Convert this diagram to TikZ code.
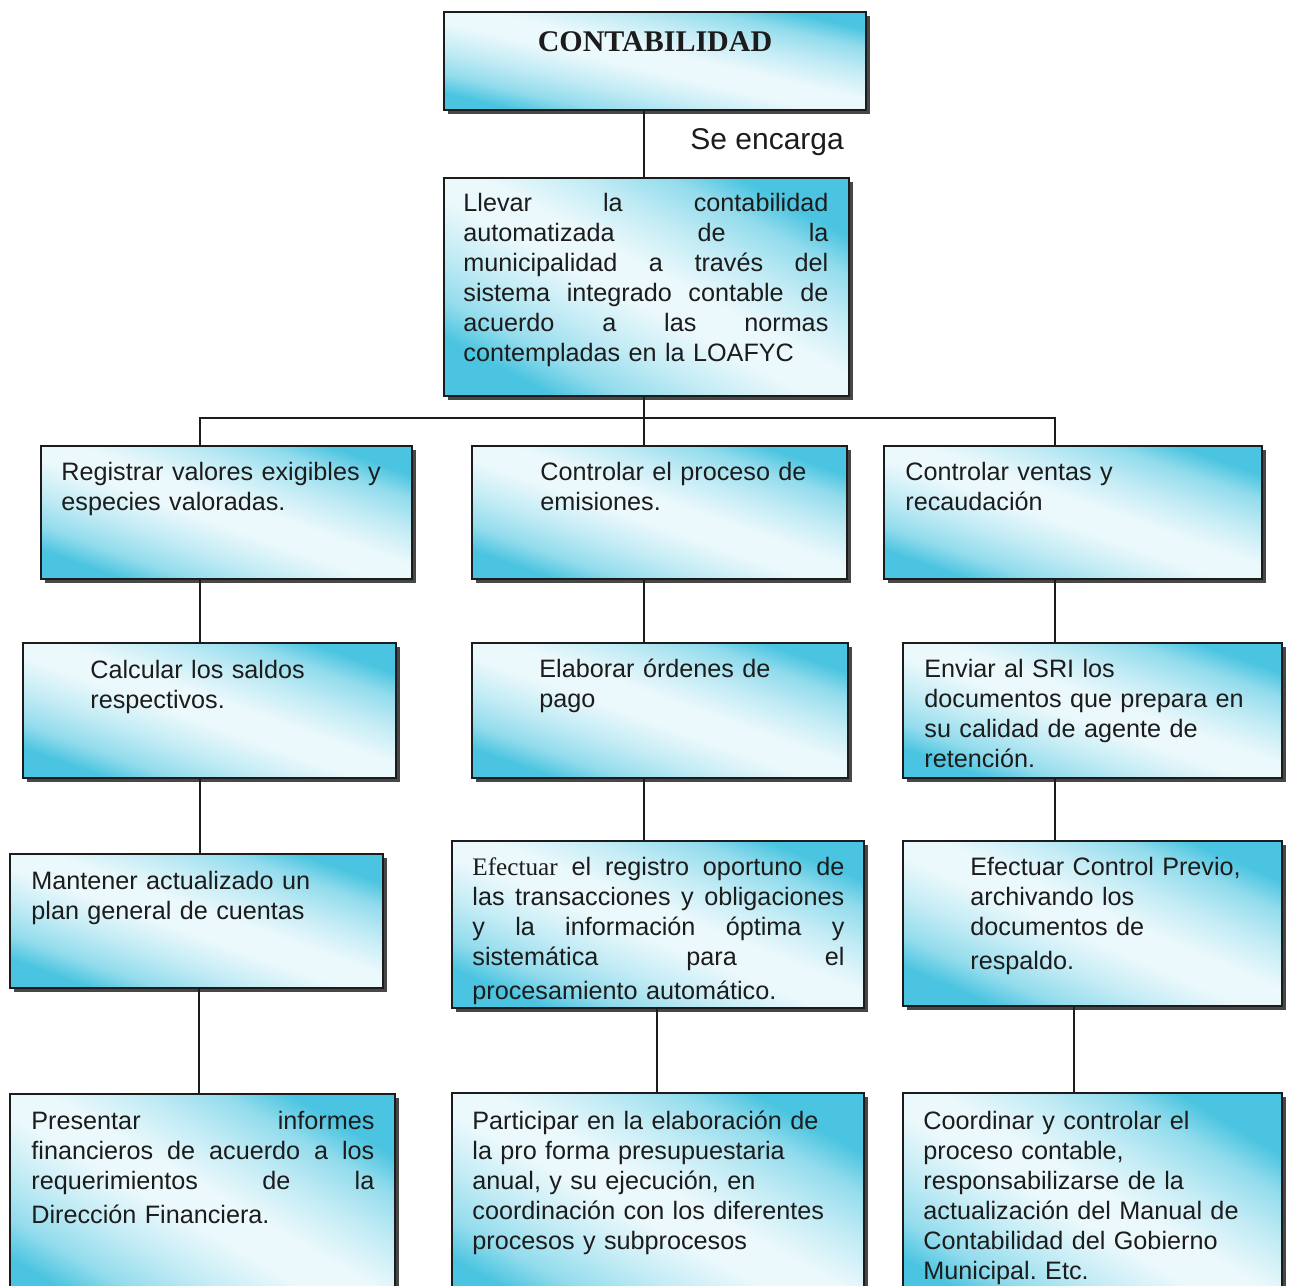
\documentclass[tikz,border=0pt]{standalone}
\usepackage{fontspec}
\setmainfont{Liberation Sans}
\newfontfamily\romana{Liberation Serif}
\usetikzlibrary{shadows}
\frenchspacing

\definecolor{cian}{RGB}{74,196,224}
\definecolor{claro}{RGB}{236,249,252}
\colorlet{cianmed}{cian!55!claro}
\colorlet{cianbajo}{cian!24!claro}
\definecolor{tinta}{RGB}{28,28,28}

% cyan in the two far corners, a broad pale band through the middle
\pgfdeclareverticalshading{degradado}{100bp}{%
  color(0bp)=(cian); color(25bp)=(cian); color(31bp)=(cianmed);
  color(39bp)=(cianbajo); color(47bp)=(claro); color(53bp)=(claro);
  color(61bp)=(cianbajo); color(69bp)=(cianmed); color(75bp)=(cian);
  color(100bp)=(cian)}

% stretchable gap used to spread a line over the full width
\newcommand\jf{\hspace{0pt plus 1fill}}

\tikzset{
  caja/.style={draw=tinta, line width=1.3pt, inner sep=0pt, outer sep=0pt,
    anchor=north west, shade, shading=degradado,
    drop shadow={shadow xshift=2pt, shadow yshift=-2pt, fill=black!72, opacity=1}},
  texto/.style={inner sep=0pt, anchor=base west, align=left, text width=195pt,
    font=\fontsize{12.6}{15}\selectfont, text=tinta},
  enlace/.style={draw=tinta, line width=1pt},
}

% box from (x1,y1) to (x2,y2), shading running across its diagonal
\newcommand\cajon[5]{%
  \pgfmathsetmacro\ancho{(#4-#2)*0.5}%
  \pgfmathsetmacro\alto{(#5-#3)*0.5}%
  \pgfmathsetmacro\giro{-atan(\alto/\ancho)}%
  \node[caja, minimum width=\ancho pt, minimum height=\alto pt,
        shading angle=\giro] (#1) at (#2,#3) {};}

\begin{document}
\begin{tikzpicture}[x=0.5pt, y=-0.5pt]
\useasboundingbox (0,0) rectangle (1289,1285);

% boxes
\cajon{top}{444}{12}{866}{110}
\cajon{B}{444}{178}{849}{396}
\cajon{r1L}{41}{446}{412}{579}
\cajon{r1M}{472}{446}{847}{579}
\cajon{r1R}{884}{446}{1262}{579}
\cajon{r2L}{23}{643}{396}{778}
\cajon{r2M}{472}{643}{848}{778}
\cajon{r2R}{903}{643}{1282}{778}
\cajon{r3L}{10}{854}{383}{988}
\cajon{r3M}{452}{841}{864}{1008}
\cajon{r3R}{903}{841}{1282}{1006}
\cajon{r4L}{10}{1094}{395}{1320}
\cajon{r4M}{452}{1093}{864}{1320}
\cajon{r4R}{903}{1093}{1282}{1320}

% texts
\node[font=\romana\bfseries\fontsize{15}{18}\selectfont, text=tinta, inner sep=0pt]
  (titulo) at (655,42) {CONTABILIDAD};
\node[anchor=base west, inner sep=0pt, font=\fontsize{15}{18}\selectfont, text=tinta]
  (encarga) at (690,149) {Se encarga};

\node[texto, text width=182.5pt] (tB) at (463,211)
  {Llevar \jf la \jf contabilidad\\
   automatizada \jf de \jf la\\
   municipalidad \jf a \jf través \jf del\\
   sistema \jf integrado \jf contable \jf de\\
   acuerdo \jf a \jf las \jf normas\\
   contempladas en la LOAFYC};

\node[texto] (t1L) at (61,480) {Registrar valores exigibles y\\ especies valoradas.};
\node[texto] (t1M) at (540,480) {Controlar el proceso de\\ emisiones.};
\node[texto] (t1R) at (905,480) {Controlar ventas y\\ recaudación};

\node[texto] (t2L) at (90,678) {Calcular los saldos\\ respectivos.};
\node[texto] (t2M) at (539,677) {Elaborar órdenes de\\ pago};
\node[texto] (t2R) at (924,677)
  {Enviar al SRI los\\ documentos que prepara en\\ su calidad de agente de\\ retención.};

\node[texto] (t3L) at (31,889) {Mantener actualizado un\\ plan general de cuentas};
\node[texto, text width=186pt] (t3M) at (472,875)
  {{\romana Efectuar} \jf el \jf registro \jf oportuno \jf de\\
   las \jf transacciones \jf y \jf obligaciones\\
   y \jf la \jf información \jf óptima \jf y\\
   sistemática \jf para \jf el\\[2pt]
   procesamiento automático.};
\node[texto] (t3R) at (970,875)
  {Efectuar Control Previo,\\ archivando los\\ documentos de\\[2pt] respaldo.};

\node[texto, text width=171.5pt] (t4L) at (31,1129)
  {Presentar \jf informes\\
   financieros \jf de \jf acuerdo \jf a \jf los\\
   requerimientos \jf de \jf la\\[2pt]
   Dirección Financiera.};
\node[texto] (t4M) at (472,1129)
  {Participar en la elaboración de\\ la pro forma presupuestaria\\
   anual, y su ejecución, en\\ coordinación con los diferentes\\
   procesos y subprocesos};
\node[texto] (t4R) at (923,1129)
  {Coordinar y controlar el\\ proceso contable,\\ responsabilizarse de la\\
   actualización del Manual de\\ Contabilidad del Gobierno\\ Municipal. Etc.};

% connector columns
\coordinate (cL) at (200,0);
\coordinate (cM) at (644,0);
\coordinate (cR) at (1055,0);
\coordinate (dL) at (199,0);
\coordinate (dM) at (657,0);
\coordinate (dR) at (1074,0);
\coordinate (bus) at (0,418);

\draw[enlace] (top.south -| cM) -- (B.north -| cM);
\draw[enlace] (B.south -| cM) -- (cM |- bus);
\draw[enlace] (r1L.north -| cL) -- (cL |- bus) -- (cR |- bus) -- (r1R.north -| cR);
\draw[enlace] (cM |- bus) -- (r1M.north -| cM);

\draw[enlace] (r1L.south -| cL) -- (r2L.north -| cL);
\draw[enlace] (r1M.south -| cM) -- (r2M.north -| cM);
\draw[enlace] (r1R.south -| cR) -- (r2R.north -| cR);

\draw[enlace] (r2L.south -| cL) -- (r3L.north -| cL);
\draw[enlace] (r2M.south -| cM) -- (r3M.north -| cM);
\draw[enlace] (r2R.south -| cR) -- (r3R.north -| cR);

\draw[enlace] (r3L.south -| dL) -- (r4L.north -| dL);
\draw[enlace] (r3M.south -| dM) -- (r4M.north -| dM);
\draw[enlace] (r3R.south -| dR) -- (r4R.north -| dR);
\end{tikzpicture}
\end{document}
